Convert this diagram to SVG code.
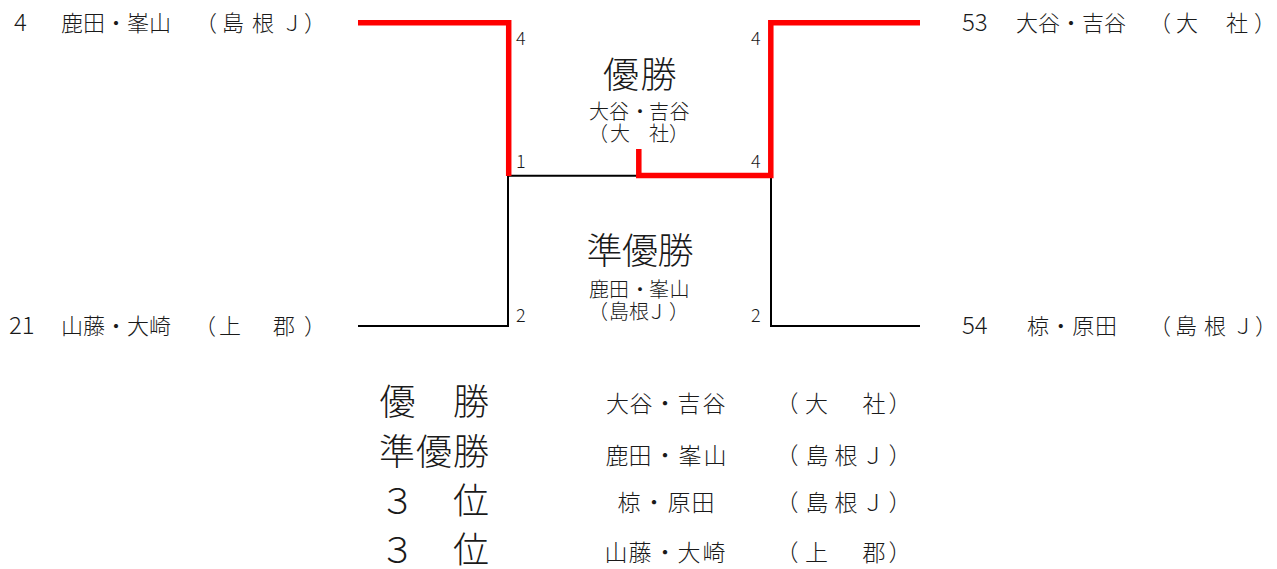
<svg xmlns="http://www.w3.org/2000/svg" width="1277" height="569" viewBox="0 0 1277 569">
<style>
text{font-family:"Noto Sans CJK JP","Noto Sans",sans-serif;font-weight:300;fill:#1a1a1a}
.e{font-size:22px}
.n{font-size:24px}
.s{font-size:18px}
.m{font-size:20px}
.t{font-size:36px}
.r{font-size:23px}
.c{text-anchor:middle}
.blk{fill:none;stroke:#000;stroke-width:2}
.red{fill:none;stroke:#ff0000;stroke-width:5.5;stroke-linejoin:miter}
</style>
<rect width="1277" height="569" fill="#fff"/>
<g id="connectors">
<path class="blk" d="M358,326 H508 V175.7 H638"/>
<path class="blk" d="M920,326 H771 V175.7"/>
<path class="red" d="M358,22.8 H508.7 V176"/>
<path class="red" d="M638.8,149 V175.5 H770.8 V22.8 H920"/>
</g>
<g id="seed-labels">
<text class="s" x="516" y="45">4</text>
<text class="s" x="751" y="45">4</text>
<text class="s" x="516" y="168">1</text>
<text class="s" x="751" y="168">4</text>
<text class="s" x="516" y="322">2</text>
<text class="s" x="751" y="322">2</text>
</g>
<g id="entry-left-top">
<text class="n" x="14" y="31.3">4</text>
<text class="e" x="61" y="31">鹿田・峯山</text>
<text class="e c" x="206 233 263 292 315" y="31">（島根Ｊ）</text>
</g>
<g id="entry-left-bottom">
<text class="n" x="9" y="333.8">21</text>
<text class="e" x="61" y="333.5">山藤・大崎</text>
<text class="e c" x="205 230 257 284 315" y="333.5">（上　郡）</text>
</g>
<g id="entry-right-top">
<text class="n" x="962" y="31.3">53</text>
<text class="e" x="1016" y="31">大谷・吉谷</text>
<text class="e c" x="1160 1187 1212 1237 1265" y="31">（大　社）</text>
</g>
<g id="entry-right-bottom">
<text class="n" x="962" y="333.8">54</text>
<text class="e" x="1027" y="333.5" textLength="90">椋・原田</text>
<text class="e c" x="1160 1186 1215 1243 1266" y="333.5">（島根Ｊ）</text>
</g>
<g id="champion">
<text class="t c" x="621 658.5" y="87.7">優勝</text>
<text class="m c" x="599 619 640 659 679.5" y="119">大谷・吉谷</text>
<text class="m c" x="598 620 640 659 679" y="141">（大　社）</text>
</g>
<g id="runner-up">
<text class="t c" x="604.5 640 675.5" y="264">準優勝</text>
<text class="m c" x="599 619 640 659 679.5" y="297">鹿田・峯山</text>
<text class="m c" x="598 619 639 656.5 679" y="319">（島根Ｊ）</text>
</g>
<g id="results">
<text class="t c" x="397.5 434 471" y="414.7">優　勝</text>
<text class="t c" x="397 434 471" y="464.7">準優勝</text>
<text class="t c" x="397.5 434 471" y="513.7">３　位</text>
<text class="t c" x="397.5 434 471" y="563">３　位</text>
<text class="r c" x="617.5 641 665 689 714" y="411.7">大谷・吉谷</text>
<text class="r c" x="787 816.5 845 874 900" y="411.7">（大　社）</text>
<text class="r c" x="617 640 665 690 715" y="463.7">鹿田・峯山</text>
<text class="r c" x="787 817 846 873 900" y="463.7">（島根Ｊ）</text>
<text class="r c" x="629 654 679 703" y="510.7">椋・原田</text>
<text class="r c" x="787 817 846 873 900" y="510.7">（島根Ｊ）</text>
<text class="r c" x="616 640 665 689 714" y="560.7">山藤・大崎</text>
<text class="r c" x="787 816.5 845 874 900" y="560.7">（上　郡）</text>
</g>
</svg>
